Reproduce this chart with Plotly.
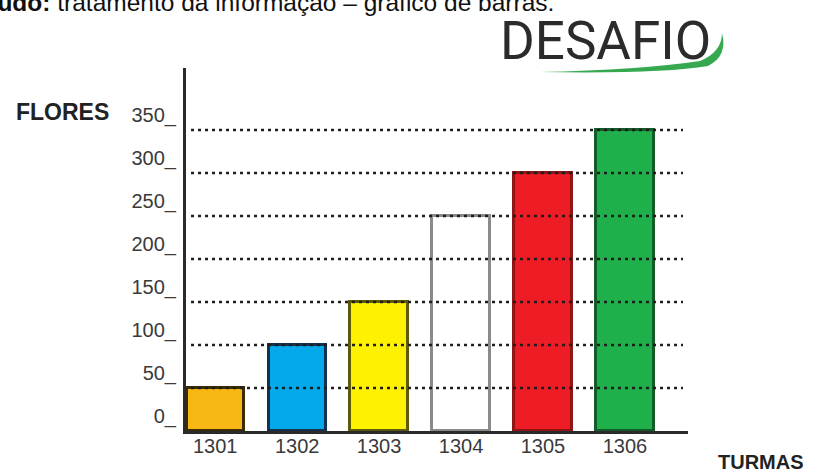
import plotly.graph_objects as go

# ---- data ----
turmas = ["1301", "1302", "1303", "1304", "1305", "1306"]
flores = [50, 100, 150, 250, 300, 350]
bar_colors = ["#F9B716", "#03A9EA", "#FFF200", "#FFFFFF", "#EE1C25", "#20B04B"]
bar_lines = ["#3a2d05", "#14324f", "#5c5a08", "#8a8a8a", "#8e1616", "#135c28"]
y_ticks = [0, 50, 100, 150, 200, 250, 300, 350]
y_tick_labels = ["0_", "50_", "100_", "150_", "200_", "250_", "300_", "350_"]

# ---- layout geometry ----
L, R, T, B = 186, 127, 68, 42
W, H = 815, 473
PW, PH = W - L - R, H - T - B


def px(x):
    return (x - L) / PW


def py(y):
    return (H - B - y) / PH


fig = go.Figure()
fig.add_trace(go.Bar(
    x=list(range(len(turmas))), y=flores,
    width=0.70,
    marker=dict(color=bar_colors, line=dict(color=bar_lines, width=3)),
    hoverinfo="skip",
))

# dotted gridlines above bars
for v in y_ticks:
    if v > 0:
        fig.add_shape(type="line", xref="paper", yref="y",
                      x0=0.01, x1=0.99, y0=v, y1=v,
                      line=dict(color="#1e1e1e", width=2.5, dash="3px,4px"),
                      layer="above")

# DESAFIO swoosh
def P(x, y):
    return f"{px(x):.4f},{py(y):.4f}"

swoosh = (f"M {P(540,72)} Q {P(660,74)} {P(708,66)} "
          f"Q {P(728,56)} {P(722,33)} "
          f"Q {P(722,52)} {P(700,61)} "
          f"Q {P(640,70)} {P(540,72)} Z")
fig.add_shape(type="path", xref="paper", yref="paper", path=swoosh,
              fillcolor="#35A850", line=dict(width=0), layer="above")

fig.update_layout(
    width=W, height=H,
    margin=dict(l=L, r=R, t=T, b=B),
    paper_bgcolor="white", plot_bgcolor="white",
    showlegend=False,
    bargap=0,
    xaxis=dict(
        range=[-0.357, 5.77],
        tickmode="array", tickvals=list(range(len(turmas))), ticktext=turmas,
        showgrid=False, zeroline=False,
        showline=True, linecolor="#2a2a2a", linewidth=3,
        ticks="", ticklen=0, ticklabelstandoff=-5,
        tickfont=dict(family="Liberation Sans, Arial, sans-serif", size=20, color="#3a3a3a"),
    ),
    yaxis=dict(
        range=[0, 422],
        tickmode="array", tickvals=y_ticks, ticktext=y_tick_labels,
        showgrid=False, zeroline=False,
        showline=True, linecolor="#2a2a2a", linewidth=3,
        ticks="", ticklen=0, ticklabelstandoff=3, ticklabelshift=-15,
        tickfont=dict(family="Liberation Sans, Arial, sans-serif", size=20, color="#3a3a3a"),
    ),
    annotations=[
        dict(text="<b>Conteúdo:</b> tratamento da informação – gráfico de barras.",
             xref="paper", yref="paper", x=px(556), y=py(18), xanchor="right", yanchor="bottom",
             showarrow=False,
             font=dict(family="Liberation Sans, Arial, sans-serif", size=24.5, color="#111")),
        dict(text="DESAFIO", xref="paper", yref="paper", x=px(605), y=py(41),
             xanchor="center", yanchor="middle", showarrow=False,
             font=dict(family="Roboto, Liberation Sans, sans-serif",
                       size=53, color="#2b2b2b")),
        dict(text="<b>FLORES</b>", xref="paper", yref="paper", x=px(62), y=py(112),
             xanchor="center", yanchor="middle", showarrow=False,
             font=dict(family="Liberation Sans, Arial, sans-serif", size=23, color="#222")),
        dict(text="<b>TURMAS</b>", xref="paper", yref="paper", x=px(761), y=py(462),
             xanchor="center", yanchor="middle", showarrow=False,
             font=dict(family="Liberation Sans, Arial, sans-serif", size=20, color="#222")),
    ],
)

fig.write_html("out.html", config={"displayModeBar": False},
               post_script="document.body.style.margin='0';document.body.style.overflow='hidden';")
